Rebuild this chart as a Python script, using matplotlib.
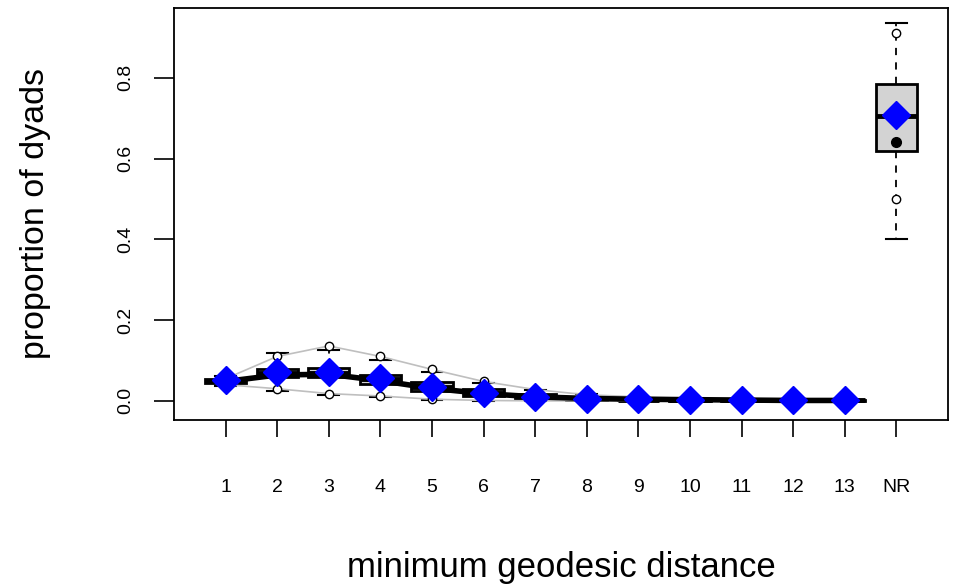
import matplotlib
matplotlib.use("Agg")
import matplotlib.pyplot as plt
import numpy as np

plt.rcParams['font.family'] = ['Liberation Sans Narrow', 'Liberation Sans', 'DejaVu Sans']

# distance categories
labels = ['1', '2', '3', '4', '5', '6', '7', '8', '9', '10', '11', '12', '13', 'NR']

# simulated distributions (boxplot stats)
box_lo = [0.038, 0.025, 0.015, 0.010, 0.003, 0.000, 0.000, 0.000, 0.000, 0.000, 0.000, 0.000, 0.000, 0.400]
box_q1 = [0.045, 0.058, 0.058, 0.042, 0.025, 0.012, 0.005, 0.002, 0.001, 0.000, 0.000, 0.000, 0.000, 0.618]
box_med = [0.050, 0.068, 0.070, 0.054, 0.035, 0.020, 0.010, 0.005, 0.003, 0.002, 0.001, 0.001, 0.001, 0.706]
box_q3 = [0.055, 0.080, 0.082, 0.065, 0.046, 0.030, 0.016, 0.009, 0.006, 0.004, 0.003, 0.002, 0.002, 0.785]
box_hi = [0.062, 0.118, 0.125, 0.100, 0.072, 0.045, 0.028, 0.016, 0.010, 0.007, 0.005, 0.004, 0.003, 0.935]

# 2.5% / 97.5% quantiles of simulations
q_low = [0.040, 0.030, 0.018, 0.012, 0.004, 0.001, 0.000, 0.000, 0.000, 0.000, 0.000, 0.000, 0.000, 0.500]
q_high = [0.055, 0.110, 0.136, 0.110, 0.078, 0.048, 0.028, 0.015, 0.010, 0.006, 0.004, 0.003, 0.002, 0.910]

# observed network
observed = [0.048, 0.064, 0.066, 0.050, 0.031, 0.018, 0.010, 0.006, 0.004, 0.003, 0.002, 0.001, 0.001, 0.640]

# mean of simulations (blue diamonds)
sim_mean = [0.051, 0.072, 0.071, 0.056, 0.034, 0.020, 0.010, 0.005, 0.004, 0.003, 0.003, 0.003, 0.003, 0.708]

x = np.arange(1, len(labels) + 1)
n_fin = len(labels) - 1  # finite distances, NR kept separate

fig = plt.figure(figsize=(9.56, 5.88), dpi=100)
ax = fig.add_axes([0.182, 0.286, 0.8096, 0.7004])

stats = []
for i in range(len(labels)):
    stats.append(dict(whislo=box_lo[i], q1=box_q1[i], med=box_med[i],
                      q3=box_q3[i], whishi=box_hi[i], fliers=[]))

ax.bxp(stats, positions=x, widths=0.8, patch_artist=True, showfliers=False,
       boxprops=dict(facecolor='#d3d3d3', edgecolor='black', linewidth=2),
       medianprops=dict(color='black', linewidth=3.5, solid_capstyle='butt'),
       whiskerprops=dict(color='black', linewidth=1.3, linestyle=(0, (4, 4))),
       capprops=dict(color='black', linewidth=1.5), capwidths=0.4)

# quantile bands
ax.plot(x[:n_fin], q_low[:n_fin], color='#bfbfbf', lw=1.2, zorder=3)
ax.plot(x[:n_fin], q_high[:n_fin], color='#bfbfbf', lw=1.2, zorder=3)
ax.plot(x, q_low, 'o', mfc='white', mec='black', ms=6, mew=1, zorder=4)
ax.plot(x, q_high, 'o', mfc='white', mec='black', ms=6, mew=1, zorder=4)

# observed
ax.plot(x[:n_fin], observed[:n_fin], color='black', lw=4, zorder=5)
ax.plot(x, observed, 'o', color='black', ms=7, zorder=5)

# simulated means
ax.plot(x, sim_mean, 'D', color='#0000ff', ms=14, mec='#0000ff', zorder=6)

ax.set_xlim(0, 15)
ax.set_ylim(-0.047, 0.973)
ax.set_xticks(x)
ax.set_xticklabels(labels, fontsize=14)
ax.set_yticks([0.0, 0.2, 0.4, 0.6, 0.8])
ax.set_yticklabels(['0.0', '0.2', '0.4', '0.6', '0.8'], rotation=90, va='center', fontsize=14)
ax.tick_params(axis='x', length=12.5, width=1.2, pad=30)
ax.tick_params(axis='y', length=14.5, width=1.2, pad=14)
for s in ax.spines.values():
    s.set_linewidth(1.3)

ax.set_xlabel('minimum geodesic distance', fontsize=25, labelpad=40)
ax.set_ylabel('proportion of dyads', fontsize=24.5, labelpad=48)

fig.savefig('out.png', dpi=100)
